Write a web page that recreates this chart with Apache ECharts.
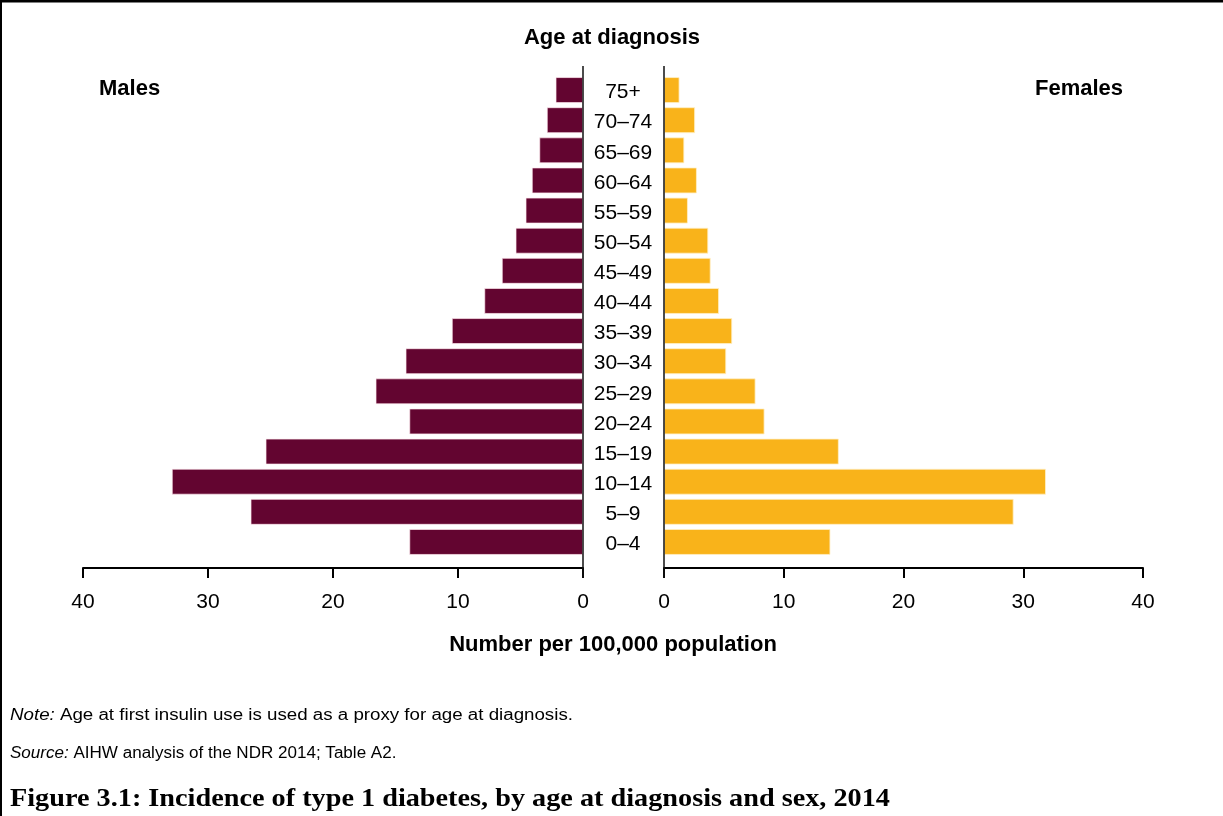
<!DOCTYPE html>
<html>
<head>
<meta charset="utf-8">
<script src="https://cdn.jsdelivr.net/npm/echarts@6/dist/echarts.min.js"></script>
<style>
html,body{margin:0;padding:0;background:#fff;}
#chart{width:1223px;height:816px;}
</style>
</head>
<body>
<div id="chart"></div>
<script>
const categories = ['0–4','5–9','10–14','15–19','20–24','25–29','30–34','35–39','40–44','45–49','50–54','55–59','60–64','65–69','70–74','75+'];
const males   = [13.9, 26.6, 32.9, 25.4, 13.9, 16.6, 14.2, 10.5, 7.9, 6.5, 5.4, 4.6, 4.1, 3.5, 2.9, 2.2];
const females = [13.9, 29.2, 31.9, 14.6, 8.4, 7.65, 5.2, 5.7, 4.6, 3.9, 3.7, 2.0, 2.75, 1.7, 2.6, 1.3];
const xMin = 0, xMax = 40, xStep = 10;

const FONT = '"Liberation Sans", Arial, sans-serif';
const chart = echarts.init(document.getElementById('chart'), null, {renderer: 'canvas'});

const xAxisCommon = {
  type: 'value', min: xMin, max: xMax, interval: xStep,
  offset: 11,
  splitLine: {show: false},
  axisLine: {show: true, lineStyle: {color: '#000', width: 2}},
  axisTick: {show: true, length: 10, lineStyle: {color: '#000', width: 2}},
  axisLabel: {color: '#000', fontSize: 21, fontFamily: FONT, margin: 24}
};

const option = {
  animation: false,
  backgroundColor: '#fff',
  grid: [
    {left: 83, right: 640, top: 75, height: 482},
    {left: 664, right: 80, top: 75, height: 482}
  ],
  xAxis: [
    Object.assign({gridIndex: 0, inverse: true}, xAxisCommon),
    Object.assign({gridIndex: 1}, xAxisCommon)
  ],
  yAxis: [
    {type: 'category', gridIndex: 0, data: categories, position: 'right',
     axisLine: {show: false}, axisTick: {show: false}, axisLabel: {show: false}},
    {type: 'category', gridIndex: 1, data: categories, position: 'left',
     axisLine: {show: false}, axisTick: {show: false},
     axisLabel: {show: true, align: 'center', margin: 41,
                 formatter: function (v) { return '{a|' + v + '}'; },
                 rich: {a: {color: '#000', fontSize: 21, fontFamily: FONT, padding: [5, 0, 0, 0]}}}}
  ],
  series: [
    {type: 'bar', name: 'Males', xAxisIndex: 0, yAxisIndex: 0, data: males, barWidth: 26,
     itemStyle: {color: '#630530', borderColor: 'rgba(255,235,240,0.7)', borderWidth: 1}},
    {type: 'bar', name: 'Females', xAxisIndex: 1, yAxisIndex: 1, data: females, barWidth: 26,
     itemStyle: {color: '#F9B31A', borderColor: 'rgba(255,240,200,0.8)', borderWidth: 1}}
  ]
};
chart.setOption(option);

const xL = chart.convertToPixel({xAxisIndex: 0}, 0);
const xR = chart.convertToPixel({xAxisIndex: 1}, 0);

chart.setOption({
  graphic: [
    {type: 'line', shape: {x1: 0, y1: 1, x2: 1223, y2: 1}, style: {stroke: '#000', lineWidth: 3}},
    {type: 'line', shape: {x1: 1, y1: 0, x2: 1, y2: 816}, style: {stroke: '#000', lineWidth: 2}},
    {type: 'line', shape: {x1: xL, y1: 66, x2: xL, y2: 578}, style: {stroke: '#111', lineWidth: 1.5}, z: 10},
    {type: 'line', shape: {x1: xR, y1: 66, x2: xR, y2: 578}, style: {stroke: '#111', lineWidth: 1.5}, z: 10},
    {type: 'text', x: 612, y: 38, style: {text: 'Age at diagnosis', font: 'bold 22px ' + FONT, fill: '#000', textAlign: 'center', textVerticalAlign: 'middle'}},
    {type: 'text', x: 99, y: 89, style: {text: 'Males', font: 'bold 22px ' + FONT, fill: '#000', textAlign: 'left', textVerticalAlign: 'middle'}},
    {type: 'text', x: 1035, y: 89, style: {text: 'Females', font: 'bold 22px ' + FONT, fill: '#000', textAlign: 'left', textVerticalAlign: 'middle'}},
    {type: 'text', x: 613, y: 645, style: {text: 'Number per 100,000 population', font: 'bold 22px ' + FONT, fill: '#000', textAlign: 'center', textVerticalAlign: 'middle'}},
    {type: 'text', x: 10, y: 716, scaleX: 1.17, style: {
      text: '{i|Note:} Age at first insulin use is used as a proxy for age at diagnosis.',
      rich: {i: {fontStyle: 'italic', fontSize: 16, fontFamily: FONT, fill: '#000'}},
      fontSize: 16, fontFamily: FONT, fill: '#000', textAlign: 'left', textVerticalAlign: 'middle'}},
    {type: 'text', x: 10, y: 754, scaleX: 1.065, style: {
      text: '{i|Source:} AIHW analysis of the NDR 2014; Table A2.',
      rich: {i: {fontStyle: 'italic', fontSize: 16, fontFamily: FONT, fill: '#000'}},
      fontSize: 16, fontFamily: FONT, fill: '#000', textAlign: 'left', textVerticalAlign: 'middle'}},
    {type: 'text', x: 10, y: 800, scaleX: 1.13, style: {text: 'Figure 3.1: Incidence of type 1 diabetes, by age at diagnosis and sex, 2014',
      font: 'bold 25px "Liberation Serif", "DejaVu Serif", serif', fill: '#000', textAlign: 'left', textVerticalAlign: 'middle'}}
  ]
});
</script>
</body>
</html>
